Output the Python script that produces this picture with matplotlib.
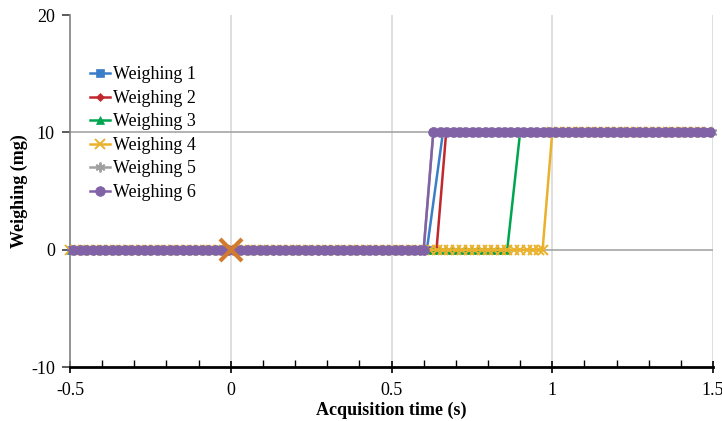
import numpy as np
import matplotlib.pyplot as plt
from matplotlib.ticker import MultipleLocator

plt.rcParams['font.family'] = ['Liberation Serif', 'DejaVu Serif']

# Data: each weighing is 0 mg until the rise, then 10 mg
labels = ['Weighing 1', 'Weighing 2', 'Weighing 3', 'Weighing 4', 'Weighing 5', 'Weighing 6']
rise_start = [0.61, 0.64, 0.86, 0.97, 0.60, 0.60]   # last sample at 0 mg (s)
rise_end = [0.66, 0.67, 0.90, 1.00, 0.63, 0.63]     # first sample at 10 mg (s)
sample_offset = [0.004, 0.012, 0.008, 0.0, 0.016, 0.01]
low_level = 0
high_level = 10
sample_step = 0.02  # acquisition period (s)
trigger_time = 0
trigger_value = 0

colors = ['#3B7DC8', '#C1282E', '#00A550', '#EAB12C', '#A0A0A0', '#8262A6']
markers = ['s', 'D', '^', 'x', (6, 2, 0), 'o']
msizes = [5.5, 4.5, 6, 7, 7, 7]

fig = plt.figure(figsize=(7.22, 4.21), dpi=100)
ax = fig.add_axes([0.097, 0.128, 0.8905, 0.836])

for lab, t0, t1, off, c, m, ms in zip(labels, rise_start, rise_end, sample_offset,
                                       colors, markers, msizes):
    grid = np.arange(-0.5 + off, 1.5, sample_step)
    t_low = np.append(grid[grid < t0 - 0.005], t0)
    t_high = np.insert(grid[grid > t1 + 0.005], 0, t1)
    t = np.concatenate([t_low, t_high])
    v = np.concatenate([np.full(len(t_low), low_level), np.full(len(t_high), high_level)])
    ax.plot(t, v, color=c, marker=m, markersize=ms, lw=1.8, label=lab,
            markeredgewidth=1.4 if m in ('x', (6, 2, 0)) else 0.5, clip_on=False, zorder=3)

ax.plot([trigger_time], [trigger_value], marker='x', markersize=16, markeredgewidth=3,
        color='#D27A2E', zorder=5, linestyle='none')

ax.set_xlim(-0.5, 1.5)
ax.set_ylim(-10, 20)
ax.xaxis.set_minor_locator(MultipleLocator(0.1))
ax.set_xticks([-0.5, 0, 0.5, 1, 1.5])
ax.set_xticklabels(['-0.5', '0', '0.5', '1', '1.5'])
ax.set_yticks([-10, 0, 10, 20])
ax.set_yticklabels(['-10', '0', '10', '20'])

for x in [0, 0.5, 1, 1.5]:
    ax.axvline(x, color='#D9D9D9', lw=1.2, zorder=1)
for y in [0, 10]:
    ax.axhline(y, color='#A6A6A6', lw=1.2, zorder=1)

for s in ['top', 'right']:
    ax.spines[s].set_visible(False)
ax.spines['left'].set_color('#808080')
ax.spines['left'].set_linewidth(1.2)
ax.spines['bottom'].set_color('black')
ax.spines['bottom'].set_linewidth(2)

ax.tick_params(axis='x', which='major', direction='inout', length=9, width=1.2,
               labelsize=13, pad=6)
ax.tick_params(axis='x', which='minor', direction='in', length=5, width=1)
ax.tick_params(axis='y', which='major', direction='out', length=6, width=1.2,
               color='#404040', labelsize=13, pad=5)
ax.tick_params(axis='y', which='minor', left=False)

ax.set_xlabel('Acquisition time (s)', fontsize=13, fontweight='bold', labelpad=2)
ax.set_ylabel('Weighing (mg)', fontsize=13, fontweight='bold')
ax.yaxis.set_label_coords(-0.066, 0.5)

ax.legend(loc='upper left', bbox_to_anchor=(0.02, 0.875), frameon=False, fontsize=13,
          handlelength=1.1, handletextpad=0.15, labelspacing=0.36, borderaxespad=0)

fig.savefig('out.png', dpi=100)
